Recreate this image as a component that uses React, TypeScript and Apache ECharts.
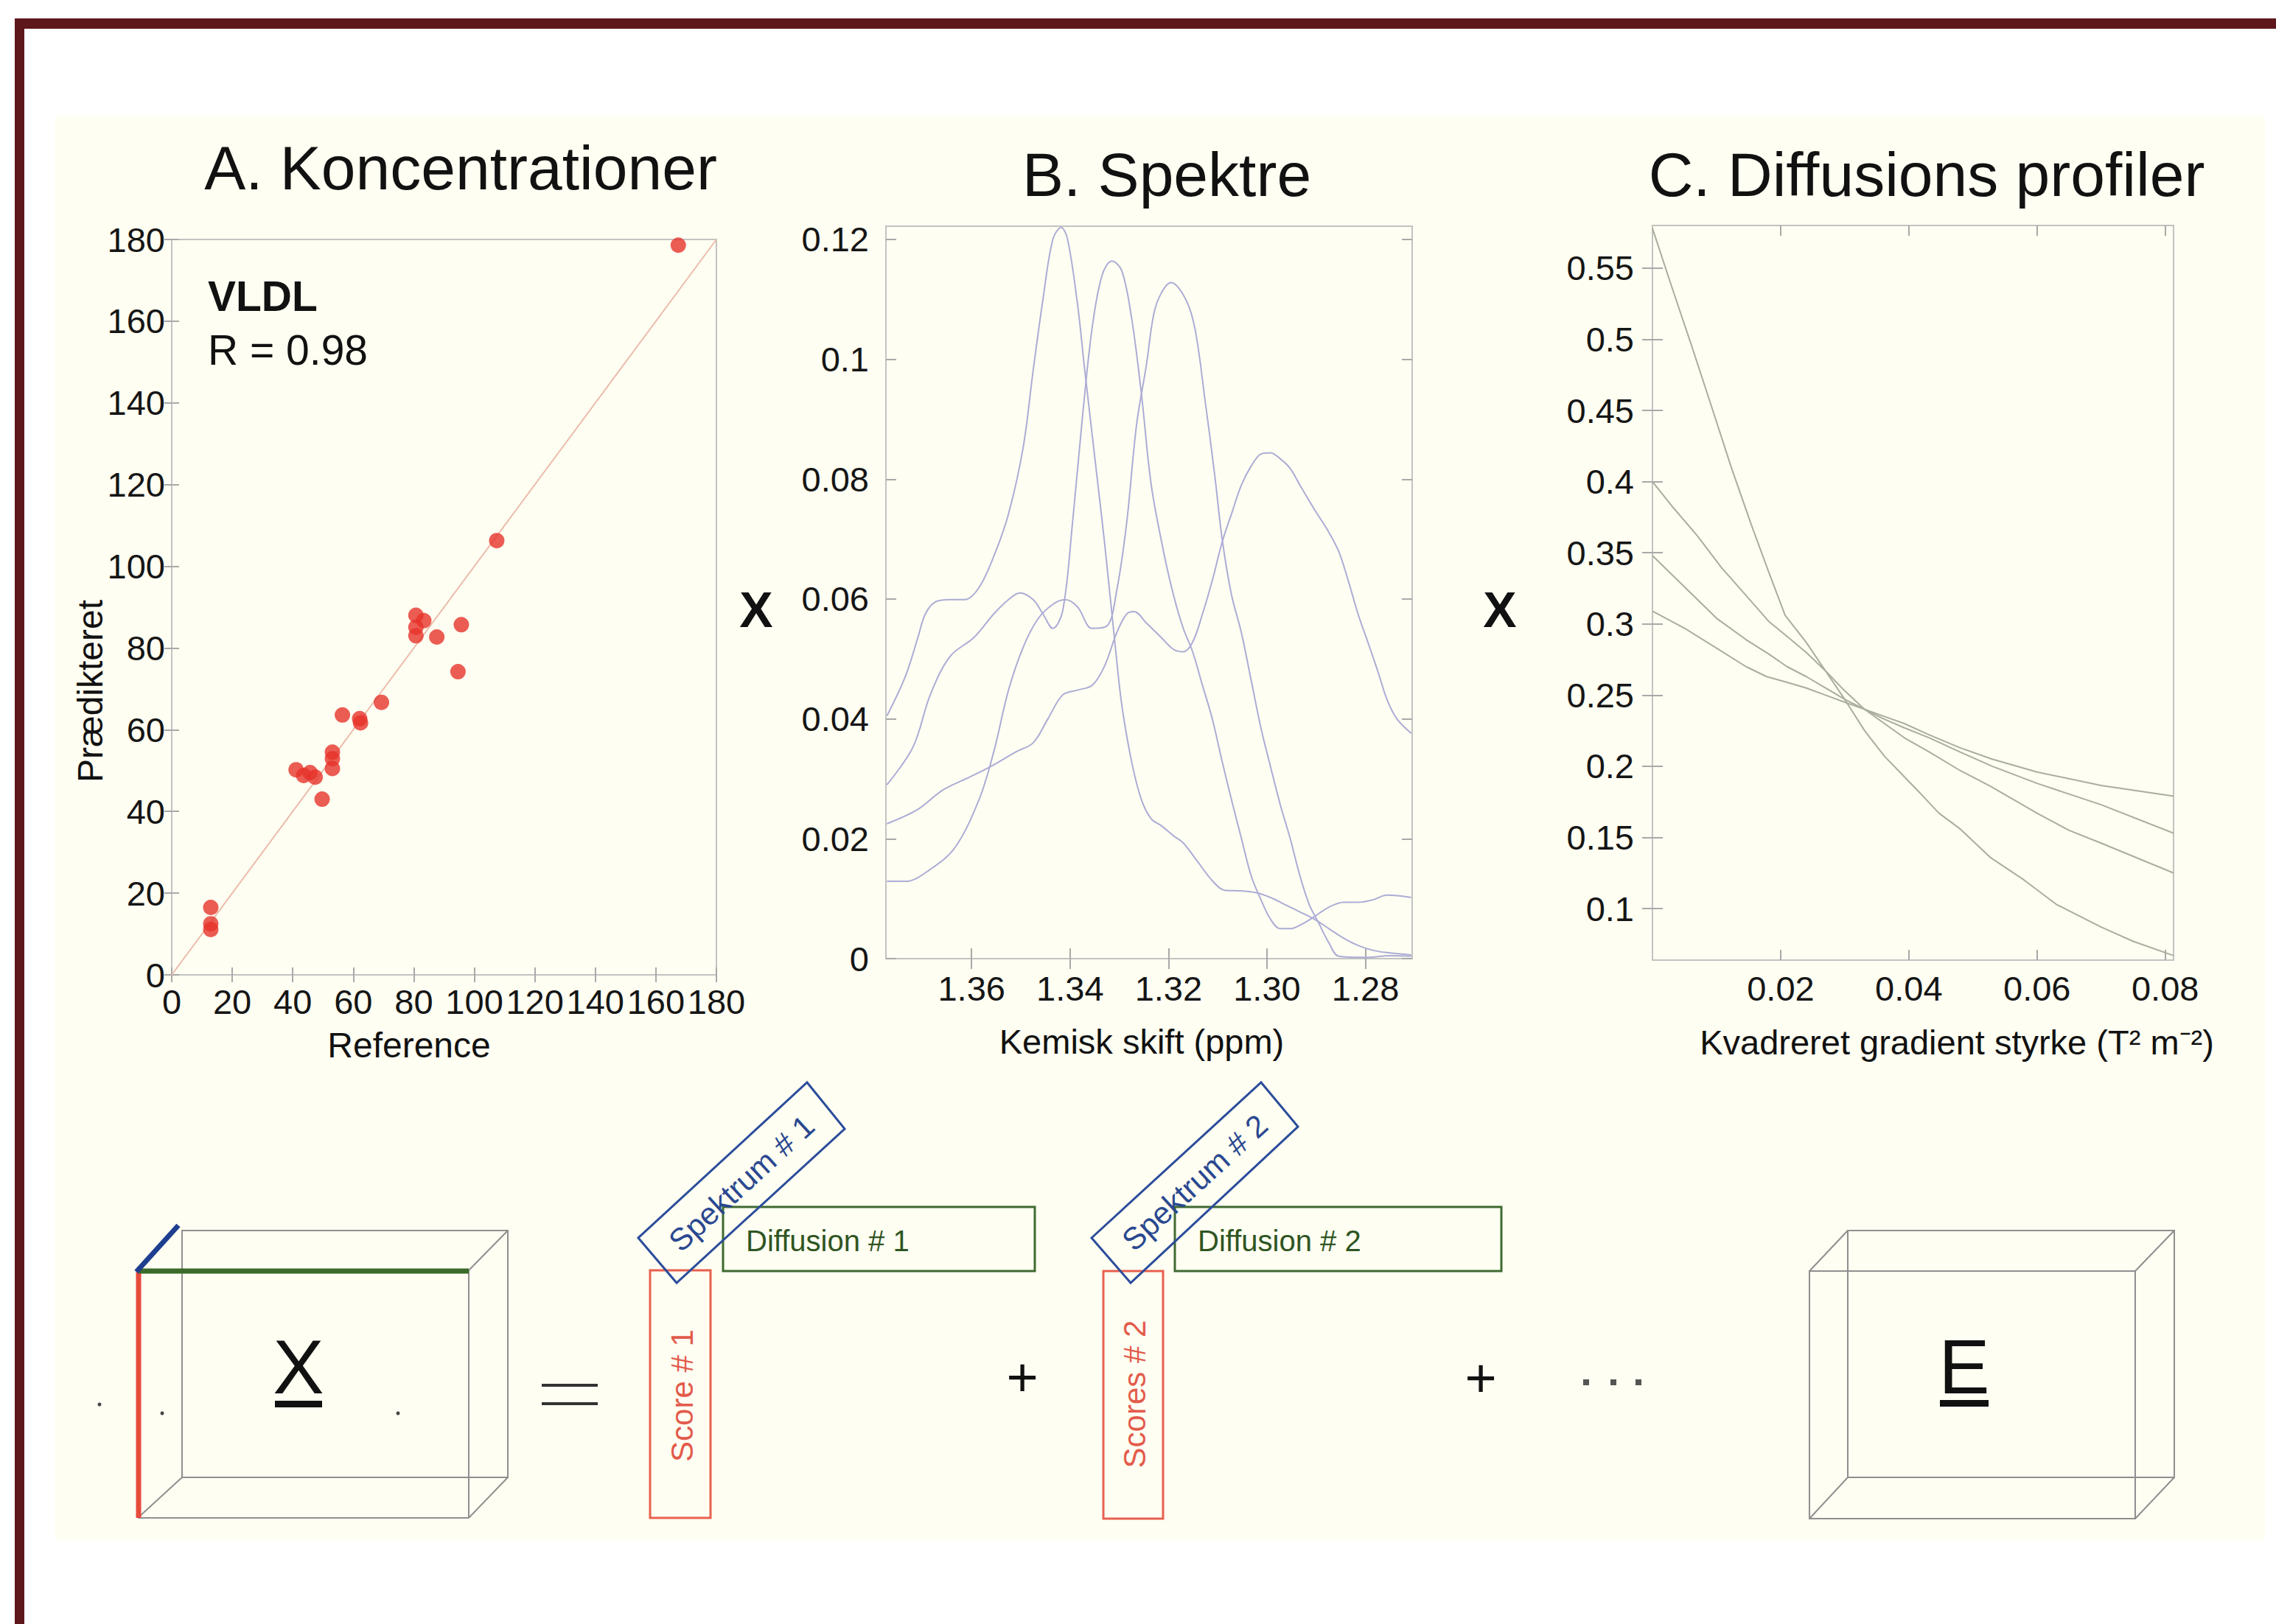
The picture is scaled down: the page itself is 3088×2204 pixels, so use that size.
import React, { useEffect, useRef } from 'react';
import * as echarts from 'echarts';

const FONT = '"Liberation Sans", Arial, Helvetica, sans-serif';

// ---------- Panel A: concentrations ----------
const referenceValues = [167.4, 107.4, 80.7, 83.3, 80.7, 80.7, 87.6, 95.7, 94.6, 69.3, 56.4, 62.1, 62.4, 53.1, 53.1, 53.1, 41.1, 43.6, 45.7, 47.4, 49.7, 12.9, 12.9, 12.9];
const predictedValues = [178.6, 106.3, 88.0, 86.7, 85.1, 83.0, 82.7, 85.7, 74.2, 66.7, 63.6, 62.7, 61.7, 54.5, 52.9, 50.5, 50.2, 48.8, 49.5, 48.4, 43.0, 16.5, 12.5, 11.1];
const identityLine = [0, 180];

// ---------- Panel B: spectra [ppm, intensity] ----------
const spectrum1 = [[1.3772,0.0405],[1.3734,0.0472],[1.3709,0.0536],[1.3694,0.0575],[1.3674,0.0595],[1.3644,0.0599],[1.3614,0.0599],[1.3585,0.0619],[1.3555,0.0671],[1.3525,0.0742],[1.3495,0.0854],[1.3475,0.0981],[1.3455,0.110],[1.3435,0.1200],[1.3418,0.1220],[1.3405,0.1200],[1.3385,0.1093],[1.337,0.0981],[1.335,0.0838],[1.333,0.0695],[1.331,0.0536],[1.3295,0.0424],[1.3275,0.0329],[1.3255,0.0265],[1.3235,0.0233],[1.3215,0.0222],[1.319,0.0205],[1.317,0.0193],[1.3141,0.0162],[1.3111,0.013],[1.3086,0.0114],[1.3052,0.0113],[1.3022,0.011],[1.2993,0.0102],[1.2963,0.009],[1.2933,0.0078],[1.2904,0.0066],[1.2874,0.005],[1.2844,0.0034],[1.2815,0.0022],[1.2785,0.0014],[1.2756,0.001],[1.2707,0.0006]];
const spectrum2 = [[1.3772,0.0290],[1.3719,0.0353],[1.3684,0.044],[1.3644,0.0504],[1.3595,0.0536],[1.3555,0.0575],[1.3525,0.0599],[1.3502,0.0610],[1.3475,0.0599],[1.3455,0.0575],[1.3435,0.0551],[1.3415,0.058],[1.3395,0.0727],[1.3375,0.0902],[1.3355,0.1053],[1.3335,0.1140],[1.3315,0.1164],[1.3295,0.1148],[1.3275,0.1069],[1.3255,0.0942],[1.3235,0.0790],[1.321,0.0679],[1.319,0.0607],[1.317,0.0551],[1.3151,0.0512],[1.3131,0.0456],[1.3111,0.040],[1.3091,0.0329],[1.3072,0.0265],[1.3052,0.0201],[1.3032,0.0138],[1.3012,0.0098],[1.2993,0.0066],[1.2973,0.005],[1.2953,0.005],[1.2928,0.0058],[1.2904,0.007],[1.2874,0.0086],[1.2844,0.0094],[1.2815,0.0094],[1.2785,0.0098],[1.2756,0.0106],[1.2707,0.0102]];
const spectrum3 = [[1.3772,0.0129],[1.3734,0.0129],[1.3684,0.0149],[1.3634,0.0185],[1.3585,0.0265],[1.3555,0.0345],[1.3525,0.0448],[1.3495,0.052],[1.3465,0.0567],[1.3435,0.0591],[1.341,0.0599],[1.3385,0.0587],[1.3355,0.0551],[1.3325,0.0555],[1.3305,0.0615],[1.3285,0.0727],[1.3265,0.0890],[1.3245,0.0990],[1.323,0.1075],[1.3215,0.1110],[1.3195,0.1128],[1.3165,0.110],[1.3146,0.105],[1.3126,0.0933],[1.3106,0.0806],[1.3091,0.0700],[1.3072,0.0607],[1.3052,0.0544],[1.3032,0.0464],[1.3012,0.0384],[1.2993,0.0321],[1.2973,0.0257],[1.2953,0.0201],[1.2933,0.0138],[1.2914,0.009],[1.2894,0.0058],[1.2874,0.0026],[1.2854,0.0004],[1.28,0.0002],[1.275,0.0005],[1.2707,0.0004]];
const spectrum4 = [[1.3772,0.0225],[1.3709,0.0249],[1.3659,0.0281],[1.3609,0.0301],[1.356,0.0321],[1.351,0.0345],[1.3475,0.036],[1.3445,0.040],[1.3415,0.044],[1.3385,0.0448],[1.3355,0.0456],[1.333,0.0488],[1.3305,0.0544],[1.3285,0.0575],[1.327,0.0579],[1.3245,0.056],[1.3215,0.0536],[1.319,0.0516],[1.317,0.0512],[1.3151,0.0528],[1.3131,0.0575],[1.3111,0.0631],[1.3091,0.0695],[1.3072,0.0742],[1.3052,0.079],[1.3032,0.0822],[1.3012,0.0842],[1.2993,0.0844],[1.2973,0.0834],[1.2953,0.0818],[1.2933,0.079],[1.2904,0.075],[1.2874,0.0711],[1.2854,0.0679],[1.2835,0.0631],[1.2815,0.0575],[1.2795,0.0528],[1.2775,0.048],[1.2756,0.0432],[1.2736,0.040],[1.2707,0.0376]];
const ppmTicks = [1.28, 1.30, 1.32, 1.34, 1.36];
const intensityTicks = [0, 0.02, 0.04, 0.06, 0.08, 0.1, 0.12];

// ---------- Panel C: diffusion profiles [g^2, value] ----------
const profile1 = [[0,0.578],[0.003,0.537],[0.006,0.497],[0.0092,0.453],[0.0123,0.41],[0.0154,0.37],[0.0181,0.337],[0.0207,0.306],[0.024,0.287],[0.027,0.267],[0.030,0.247],[0.0331,0.225],[0.0362,0.207],[0.039,0.194],[0.042,0.18],[0.0447,0.167],[0.048,0.156],[0.0527,0.136],[0.058,0.12],[0.063,0.103],[0.070,0.087],[0.075,0.077],[0.0813,0.067]];
const profile2 = [[0,0.40],[0.003,0.383],[0.007,0.362],[0.0107,0.34],[0.0146,0.32],[0.0181,0.302],[0.0208,0.292],[0.024,0.28],[0.027,0.267],[0.030,0.253],[0.0331,0.24],[0.0362,0.23],[0.0393,0.22],[0.0432,0.21],[0.048,0.197],[0.0527,0.186],[0.06,0.167],[0.065,0.155],[0.07,0.146],[0.0813,0.125]];
const profile3 = [[0,0.348],[0.005,0.326],[0.010,0.304],[0.0146,0.289],[0.0181,0.279],[0.021,0.27],[0.024,0.263],[0.027,0.255],[0.030,0.247],[0.0331,0.24],[0.0362,0.233],[0.0393,0.227],[0.0432,0.22],[0.048,0.21],[0.053,0.2],[0.06,0.188],[0.07,0.173],[0.0813,0.153]];
const profile4 = [[0,0.309],[0.005,0.297],[0.010,0.283],[0.0146,0.27],[0.0178,0.263],[0.021,0.259],[0.024,0.255],[0.027,0.25],[0.030,0.245],[0.0331,0.24],[0.0362,0.235],[0.0393,0.23],[0.0432,0.222],[0.048,0.213],[0.053,0.205],[0.06,0.196],[0.07,0.1865],[0.0813,0.179]];
const gradientTicks = [0.02, 0.04, 0.06, 0.08];
const profileTicks = [0.1, 0.15, 0.2, 0.25, 0.3, 0.35, 0.4, 0.45, 0.5, 0.55];

const TICK = '#a9a9a9';
const LABEL = '#151515';

function axis(o: any) {
  const {
    gridIndex, position, min, max, inverse, interval, custom, showLabel, margin, tickLen, fmt,
  } = o;
  const a: any = {
    type: 'value', gridIndex, position, min, max, inverse: !!inverse,
    axisLine: { show: false },
    splitLine: { show: false },
    axisTick: { show: true, inside: true, length: tickLen, lineStyle: { color: TICK, width: 2 } },
    axisLabel: {
      show: showLabel, margin, fontSize: 47, fontFamily: FONT, color: LABEL,
      hideOverlap: false,
    },
  };
  if (interval !== undefined) a.interval = interval;
  if (custom) {
    a.axisTick.customValues = custom;
    a.axisLabel.customValues = custom;
  }
  if (fmt) a.axisLabel.formatter = fmt;
  return a;
}

const trim = (v: number) => String(parseFloat(Number(v).toFixed(3)));
const two = (v: number) => Number(v).toFixed(2);

function txt(x: number, y: number, text: string, size: number, extra: any = {}) {
  const align = extra.align || 'center';
  return {
    type: 'text', x, y, rotation: extra.rotation || 0, silent: true, z: 10,
    style: {
      text, fontSize: size, fontFamily: FONT, fontWeight: extra.weight || 'normal',
      fill: extra.color || '#111', textAlign: align, align, textVerticalAlign: 'middle', verticalAlign: 'middle',
    },
  };
}
function ln(x1: number, y1: number, x2: number, y2: number, color: string, w: number) {
  return { type: 'line', silent: true, z: 5, shape: { x1, y1, x2, y2 }, style: { stroke: color, lineWidth: w } };
}
function box(x: number, y: number, width: number, height: number, color: string, w: number) {
  return { type: 'rect', silent: true, z: 5, shape: { x, y, width, height }, style: { fill: 'none', stroke: color, lineWidth: w } };
}
function fillRect(x: number, y: number, width: number, height: number, color: string, z = 5) {
  return { type: 'rect', silent: true, z, shape: { x, y, width, height }, style: { fill: color } };
}

const GRAY = '#8f8f8f';

function buildGraphics() {
  const g: any[] = [];
  g.push(fillRect(75, 158, 2998, 1932, '#fefef2', -10));
  g.push(fillRect(20, 25, 3068, 14, '#5e171b', 20));
  g.push(fillRect(20, 25, 13, 2179, '#5e171b', 20));

  // titles
  g.push(txt(625, 228, 'A. Koncentrationer', 84));
  g.push(txt(1583, 237, 'B. Spektre', 84));
  g.push(txt(2614, 237, 'C. Diffusions profiler', 84));

  // axis names
  g.push(txt(555, 1418, 'Reference', 48));
  g.push(txt(122, 938, 'Prædikteret', 48, { rotation: Math.PI / 2 }));
  g.push(txt(1549, 1413, 'Kemisk skift (ppm)', 47));
  g.push(txt(2655, 1414, 'Kvadreret gradient styrke (T² m⁻²)', 47));

  // annotation
  g.push(txt(282, 402, 'VLDL', 57, { align: 'left', weight: 'bold' }));
  g.push(txt(282, 475, 'R = 0.98', 57, { align: 'left' }));

  // multiplication signs
  g.push(txt(1026, 827, 'X', 68, { weight: 'bold' }));
  g.push(txt(2035, 827, 'X', 68, { weight: 'bold' }));

  // ---- X cube ----
  g.push(box(247, 1670, 442, 335, GRAY, 2));
  g.push(ln(636, 1724, 636, 2060, GRAY, 2));
  g.push(ln(187, 2060, 636, 2060, GRAY, 2));
  g.push(ln(636, 1724, 689, 1670, GRAY, 2));
  g.push(ln(187, 2060, 247, 2005, GRAY, 2));
  g.push(ln(636, 2060, 689, 2005, GRAY, 2));
  g.push(ln(188, 1724, 188, 2060, '#e84a3c', 7));
  g.push(ln(188, 1725, 636, 1725, '#3b6a2a', 7));
  g.push(ln(185, 1726, 242, 1663, '#1e3f90', 7));
  g.push(txt(405, 1855, 'X', 104));
  g.push(fillRect(373, 1901, 64, 9, '#111'));
  [[135, 1906], [220, 1918], [540, 1918]].forEach(([cx, cy]) =>
    g.push({ type: 'circle', silent: true, z: 5, shape: { cx, cy, r: 2.5 }, style: { fill: '#444' } }));

  // "="
  g.push(ln(735, 1880, 811, 1880, '#333', 4));
  g.push(ln(735, 1905, 811, 1905, '#333', 4));

  // component 1
  g.push(box(882, 1724, 82, 336, '#e8604f', 3));
  g.push(txt(925, 1894, 'Score # 1', 42, { rotation: Math.PI / 2, color: '#e25b4b' }));
  g.push({ type: 'polygon', silent: true, z: 6, shape: { points: [[866, 1680], [918, 1741], [1146, 1532], [1095, 1469]] }, style: { fill: 'none', stroke: '#2b4c9b', lineWidth: 3 } });
  g.push(txt(1006, 1606, 'Spektrum # 1', 42, { rotation: 0.742, color: '#2a4890' }));
  g.push(box(981, 1638, 423, 87, '#3f6a30', 3));
  g.push(txt(1012, 1684, 'Diffusion # 1', 40, { align: 'left', color: '#2f5522' }));
  g.push(txt(1387, 1869, '+', 74));

  // component 2
  g.push(box(1497, 1725, 81, 336, '#e8604f', 3));
  g.push(txt(1539, 1892, 'Scores # 2', 42, { rotation: Math.PI / 2, color: '#e25b4b' }));
  g.push({ type: 'polygon', silent: true, z: 6, shape: { points: [[1481, 1680], [1534, 1741], [1761, 1529], [1711, 1469]] }, style: { fill: 'none', stroke: '#2b4c9b', lineWidth: 3 } });
  g.push(txt(1621, 1605, 'Spektrum # 2', 42, { rotation: 0.742, color: '#2a4890' }));
  g.push(box(1594, 1638, 443, 87, '#3f6a30', 3));
  g.push(txt(1625, 1684, 'Diffusion # 2', 40, { align: 'left', color: '#2f5522' }));
  g.push(txt(2009, 1870, '+', 74));
  [2148, 2185, 2219].forEach((x) => g.push(fillRect(x, 1872, 8, 8, '#555')));

  // E cube
  g.push(box(2507, 1670, 443, 335, GRAY, 2));
  g.push(box(2455, 1725, 442, 336, GRAY, 2));
  g.push(ln(2455, 1725, 2507, 1670, GRAY, 2));
  g.push(ln(2897, 1725, 2950, 1670, GRAY, 2));
  g.push(ln(2455, 2061, 2507, 2005, GRAY, 2));
  g.push(ln(2897, 2061, 2950, 2005, GRAY, 2));
  g.push(txt(2665, 1855, 'E', 104));
  g.push(fillRect(2632, 1900, 66, 9, '#111'));
  return g;
}

const SPEC_COLOR = '#acacd6';
const PROF_COLOR = '#a9ae9e';

function buildOption() {
  const grids = [
    { left: 233, top: 325, width: 739, height: 998 },
    { left: 1202, top: 307, width: 714, height: 994 },
    { left: 2242, top: 306, width: 707, height: 997 },
  ].map((g) => ({ ...g, show: true, borderColor: '#c3c3c3', borderWidth: 2, backgroundColor: 'transparent', containLabel: false }));

  const xAxis = [
    axis({ gridIndex: 0, position: 'bottom', min: 0, max: 180, interval: 20, showLabel: true, margin: 13, tickLen: 10 }),
    axis({ gridIndex: 0, position: 'top', min: 0, max: 180, interval: 20, showLabel: false, margin: 8, tickLen: 10 }),
    axis({ gridIndex: 1, position: 'bottom', min: 1.2705, max: 1.3774, inverse: true, custom: ppmTicks, showLabel: true, margin: 17, tickLen: 14, fmt: two }),
    axis({ gridIndex: 1, position: 'top', min: 1.2705, max: 1.3774, inverse: true, custom: ppmTicks, showLabel: false, margin: 8, tickLen: 14 }),
    axis({ gridIndex: 2, position: 'bottom', min: 0, max: 0.0813, custom: gradientTicks, showLabel: true, margin: 15, tickLen: 14, fmt: two }),
    axis({ gridIndex: 2, position: 'top', min: 0, max: 0.0813, custom: gradientTicks, showLabel: false, margin: 8, tickLen: 14 }),
  ];
  const yAxis = [
    axis({ gridIndex: 0, position: 'left', min: 0, max: 180, interval: 20, showLabel: true, margin: 9, tickLen: 10 }),
    axis({ gridIndex: 0, position: 'right', min: 0, max: 180, interval: 20, showLabel: false, margin: 8, tickLen: 10 }),
    axis({ gridIndex: 1, position: 'left', min: 0, max: 0.1222, custom: intensityTicks, showLabel: true, margin: 23, tickLen: 14, fmt: trim }),
    axis({ gridIndex: 1, position: 'right', min: 0, max: 0.1222, custom: intensityTicks, showLabel: false, margin: 8, tickLen: 14 }),
    axis({ gridIndex: 2, position: 'left', min: 0.0638, max: 0.58, custom: profileTicks, showLabel: true, margin: 25, tickLen: 14, fmt: trim }),
    axis({ gridIndex: 2, position: 'right', min: 0.0638, max: 0.58, custom: profileTicks, showLabel: false, margin: 8, tickLen: 14 }),
  ];

  const spectra = [spectrum1, spectrum2, spectrum3, spectrum4];
  const profiles = [profile1, profile2, profile3, profile4];

  const series: any[] = [
    {
      type: 'line', xAxisIndex: 0, yAxisIndex: 0, data: identityLine.map((v) => [v, v]),
      showSymbol: false, lineStyle: { color: '#ebbcab', width: 2 }, z: 1, silent: true,
    },
    {
      type: 'scatter', xAxisIndex: 0, yAxisIndex: 0,
      data: referenceValues.map((v, i) => [v, predictedValues[i]]),
      symbol: 'circle', symbolSize: 21, itemStyle: { color: '#e6332a' }, z: 3,
    },
    ...spectra.map((d) => ({
      type: 'line', xAxisIndex: 2, yAxisIndex: 2, data: d, showSymbol: false, smooth: 0.35,
      lineStyle: { color: SPEC_COLOR, width: 2 }, z: 2, silent: true,
    })),
    ...profiles.map((d) => ({
      type: 'line', xAxisIndex: 4, yAxisIndex: 4, data: d, showSymbol: false,
      lineStyle: { color: PROF_COLOR, width: 2 }, z: 2, silent: true,
    })),
  ];

  return {
    animation: false,
    backgroundColor: '#ffffff',
    grid: grids,
    xAxis,
    yAxis,
    series,
    graphic: { elements: buildGraphics() },
  };
}

export default function App() {
  const ref = useRef<HTMLDivElement>(null);
  useEffect(() => {
    document.body.style.margin = '0';
    if (!ref.current) return;
    const chart = echarts.init(ref.current, undefined, { renderer: 'svg' });
    chart.setOption(buildOption() as any);
    return () => chart.dispose();
  }, []);
  return <div ref={ref} style={{ width: 3088, height: 2204 }} />;
}
